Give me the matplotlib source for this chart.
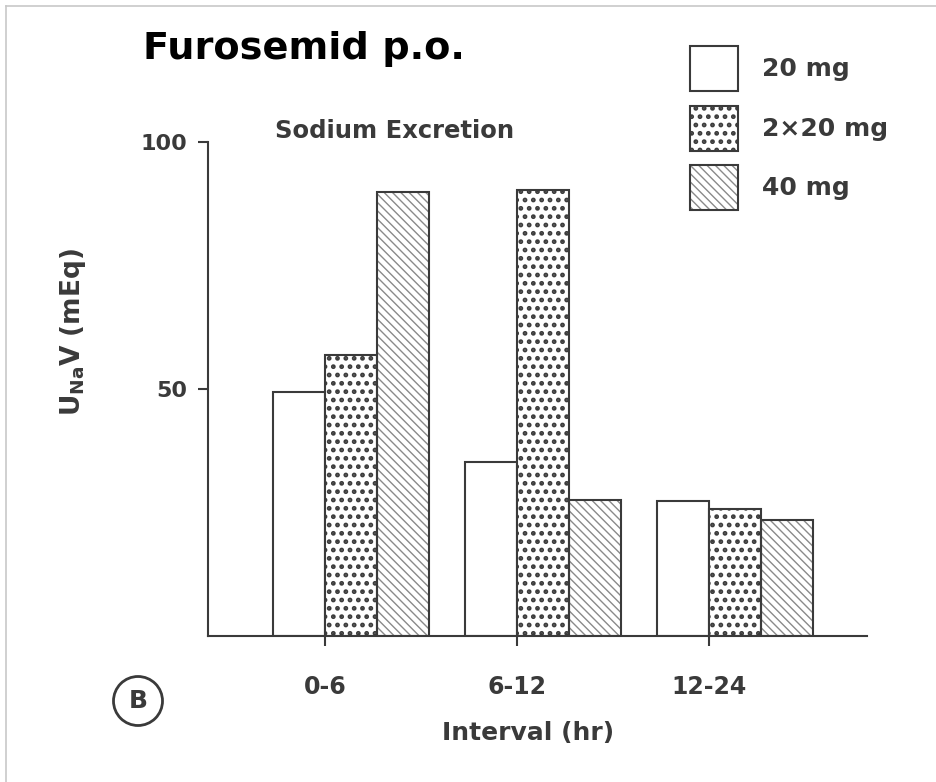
import matplotlib.pyplot as plt
import numpy as np
from matplotlib.lines import Line2D
from matplotlib.patches import Rectangle

# Data
intervals = ['0-6', '6-12', '12-24']
na_20mg = [49.3, 35.2, 27.3]
na_2x20mg = [56.9, 90.3, 25.8]
na_40mg = [89.9, 27.5, 23.5]
series_labels = ['20 mg', '2\u00d720 mg', '40 mg']

ink = '#3a3a3a'
plt.rcParams['mathtext.fontset'] = 'dejavusans'

fig = plt.figure(figsize=(9.36, 7.82), dpi=100)
ax = fig.add_axes([208/936, 1-636/782, (867-208)/936, (636-142)/782])

x = np.arange(len(intervals))
w = 0.271
hatch_lw = {'..': 2.2, '\\\\\\\\': 1.0}

b1 = ax.bar(x - w, na_20mg, w, align='edge', color='white', edgecolor=ink, lw=1.5)
with plt.rc_context({'hatch.linewidth': 2.2}):
    b2 = ax.bar(x, na_2x20mg, w, align='edge', color='white', edgecolor='#3c3c3c',
                hatch='..', lw=0)
with plt.rc_context({'hatch.linewidth': 1.0}):
    b3 = ax.bar(x + w, na_40mg, w, align='edge', color='white', edgecolor='#8a8a8a',
                hatch='\\\\\\\\', lw=0)
ax.bar(x, na_2x20mg, w, align='edge', fill=False, edgecolor=ink, lw=1.5)
ax.bar(x + w, na_40mg, w, align='edge', fill=False, edgecolor=ink, lw=1.5)

ax.set_xlim(-0.609, 2.823)
ax.set_ylim(0, 100)
ax.spines['top'].set_visible(False)
ax.spines['right'].set_visible(False)
for s in ['left', 'bottom']:
    ax.spines[s].set_color(ink)
    ax.spines[s].set_linewidth(1.5)

ax.set_yticks([50, 100])
ax.set_yticklabels(['50', '100'], fontsize=16, fontweight='bold', color=ink)
ax.set_xticks(x)
ax.set_xticklabels(intervals, fontsize=17, fontweight='bold', color=ink)
ax.tick_params(axis='both', direction='out', length=7, width=1.5, color=ink, pad=8)
ax.tick_params(axis='x', pad=21)

ax.set_xlabel('Interval (hr)', fontsize=18, fontweight='bold', color=ink)
ax.xaxis.set_label_coords((528-208)/659, (636-733)/494)
ax.set_ylabel(r'$\mathbf{U_{Na}V}$ (mEq)', fontsize=19, fontweight='bold', color=ink)
ax.yaxis.set_label_coords((73-208)/659, (636-332)/494)
ax.yaxis.label.set_va('center')
ax.xaxis.label.set_va('center')

fig.text(275/936, 1-131/782, 'Sodium Excretion', fontsize=17.5, fontweight='bold',
         color=ink, va='center', ha='left')
fig.text(143/936, 1-59/782, 'Furosemid p.o.', fontsize=27.5, fontweight='bold',
         family='DejaVu Sans', color='black', va='baseline', ha='left')
fig.text(138/936, 1-701/782, 'B', fontsize=18, fontweight='bold', color=ink,
         ha='center', va='center',
         bbox=dict(boxstyle='circle,pad=0.5', fc='white', ec=ink, lw=2))

# legend: hatched patch plus a dark outline on top
outline = Rectangle((0, 0), 1, 1, fill=False, edgecolor=ink, lw=1.5)
handles = [b1[0], (b2[0], outline), (b3[0], outline)]
leg = fig.legend(handles, series_labels, loc='upper left',
                 bbox_to_anchor=(690/936, 1-46/782), frameon=False,
                 handlelength=1.9, handleheight=2.4, labelspacing=0.58,
                 handletextpad=1.0, borderpad=0, borderaxespad=0,
                 prop=dict(size=18, weight='bold'))
for t in leg.get_texts():
    t.set_color(ink)
for p in leg.findobj(Rectangle):
    hatch = p.get_hatch()
    if hatch in hatch_lw and hasattr(p, 'set_hatch_linewidth'):
        p.set_hatch_linewidth(hatch_lw[hatch])

# light frame of the slide image
fig.add_artist(Line2D([6/936, 1], [1-6/782, 1-6/782], color='#c8c8c8', lw=1.2))
fig.add_artist(Line2D([6/936, 6/936], [0, 1-6/782], color='#c8c8c8', lw=1.2))

fig.savefig('out.png', dpi=100)
